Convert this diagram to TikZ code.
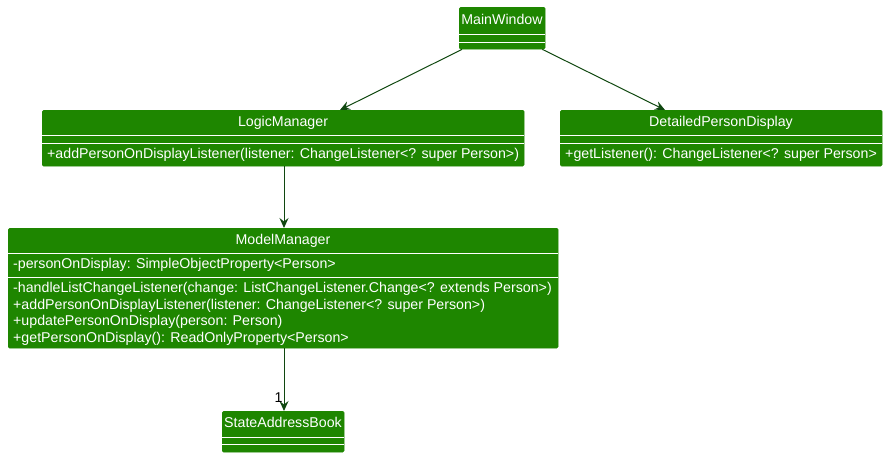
\documentclass[tikz,border=0pt]{standalone}
\usepackage{fontspec}
\setmainfont{Liberation Sans}
\usetikzlibrary{arrows.meta,calc}
\definecolor{umlgreen}{RGB}{30,134,0}
\definecolor{arrowgreen}{RGB}{16,72,16}
\tikzset{
  cls/.style={fill=umlgreen, draw=umlgreen, rounded corners=1.5pt, inner sep=0pt, anchor=north west},
  sep/.style={draw=white, line width=1pt},
  ttl/.style={text=white, font=\fontsize{14.2}{16}\selectfont, inner sep=0pt, text height=10pt, text depth=3pt},
  mem/.style={ttl, anchor=west},
  arr/.style={draw=arrowgreen, line width=1pt, -{Stealth[length=10pt,width=9pt,inset=3.5pt]}},
  mult/.style={text=black, font=\fontsize{14.2}{16}\selectfont, inner sep=0pt, anchor=east}
}
\begin{document}
\begin{tikzpicture}[x=1pt,y=-1pt]
\useasboundingbox (0,0) rectangle (888,458);
% MainWindow
\node[cls, minimum width=86pt, minimum height=42pt] (mw) at (459,7) {};
\draw[sep] (459,34) -- (545,34);
\draw[sep] (459,42) -- (545,42);
\node[ttl] (mwt) at (502,20.5) {MainWindow};
% LogicManager
\node[cls, minimum width=482pt, minimum height=56pt] (lm) at (42,110) {};
\draw[sep] (42,135) -- (524,135);
\draw[sep] (42,143) -- (524,143);
\node[ttl] (lmt) at (283,122.5) {LogicManager};
\node[mem] (lm1) at (47,155) {+addPersonOnDisplayListener(listener: ChangeListener<? super Person>)};
% DetailedPersonDisplay
\node[cls, minimum width=322pt, minimum height=56pt] (dpd) at (560,110) {};
\draw[sep] (560,135) -- (882,135);
\draw[sep] (560,143) -- (882,143);
\node[ttl] (dpdt) at (721,122.5) {DetailedPersonDisplay};
\node[mem] (dpd1) at (565,155) {+getListener(): ChangeListener<? super Person>};
% ModelManager
\node[cls, minimum width=550pt, minimum height=120pt] (mm) at (8,228) {};
\draw[sep] (8,253) -- (558,253);
\draw[sep] (8,277) -- (558,277);
\node[ttl] (mmt) at (283,240.5) {ModelManager};
\node[mem] (mma) at (13,265) {-personOnDisplay: SimpleObjectProperty<Person>};
\node[mem] (mm1) at (13,289) {-handleListChangeListener(change: ListChangeListener.Change<? extends Person>)};
\node[mem] (mm2) at (13,305.5) {+addPersonOnDisplayListener(listener: ChangeListener<? super Person>)};
\node[mem] (mm3) at (13,322) {+updatePersonOnDisplay(person: Person)};
\node[mem] (mm4) at (13,338.5) {+getPersonOnDisplay(): ReadOnlyProperty<Person>};
% StateAddressBook
\node[cls, minimum width=122pt, minimum height=41pt] (sab) at (222,411) {};
\draw[sep] (222,437) -- (344,437);
\draw[sep] (222,444) -- (344,444);
\node[ttl] (sabt) at (283,424) {StateAddressBook};
% connectors
\draw[arr] ($(mw.south west)+(3,0)$) -- ($(lm.north west)+(298,0)$);
\draw[arr] ($(mw.south east)+(-3,0)$) -- ($(dpd.north west)+(105,0)$);
\draw[arr] ($(lm.south west)+(242,0)$) -- ($(mm.north west)+(276,0)$);
\draw[arr] ($(mm.south west)+(276,0)$) -- node[mult, pos=0.78, xshift=-1pt] (m1) {1} ($(sab.north west)+(62,0)$);
\end{tikzpicture}
\end{document}
